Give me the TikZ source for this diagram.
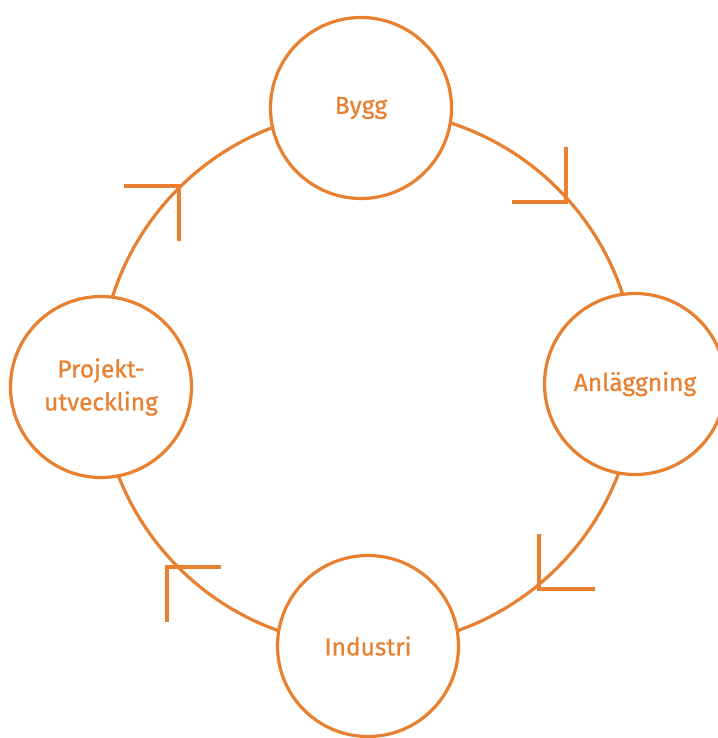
\documentclass[tikz,border=0pt]{standalone}
\usepackage{fontspec}
\setmainfont{Fira Sans}
\newfontfamily\hubfont{Fira Sans}[FakeBold=0.7]
\definecolor{ring}{RGB}{232,128,48}
\begin{document}
\begin{tikzpicture}[x=1pt,y=-1pt,
  hub/.style={circle,draw=ring,line width=3.2pt,fill=white,minimum size=181pt,inner sep=0pt,
    text=ring,font=\hubfont\fontsize{24.5}{33}\selectfont,align=center},
  ringline/.style={draw=ring,line width=3.2pt},
  arm/.style={draw=ring,line width=3.2pt}]
\useasboundingbox (0,0) rectangle (717,738);
\fill[white] (0,0) rectangle (717,738);
\coordinate (c) at (368,378);
\draw[ringline] (c) circle (268);
\node[hub] (bygg) at (361,108) {Bygg};
\node[hub] (anl) at (635,384) {Anläggning};
\node[hub] (ind) at (368,646) {Industri};
\node[hub] (proj) at (101,387) {Projekt-\\utveckling};
% arrow markers
\coordinate (a1) at (566,202);
\coordinate (a1v) at (566,147);
\coordinate (a1h) at (512,202);
\draw[arm] (a1v) -- (a1) -- (a1h);
\coordinate (a2) at (179,186);
\coordinate (a2h) at (124,186);
\coordinate (a2v) at (179,241);
\draw[arm] (a2h) -- (a2) -- (a2v);
\coordinate (a3) at (539,589);
\coordinate (a3v) at (539,534);
\coordinate (a3h) at (595,589);
\draw[arm] (a3v) -- (a3) -- (a3h);
\coordinate (a4) at (167,567);
\coordinate (a4h) at (221,567);
\coordinate (a4v) at (167,622);
\draw[arm] (a4h) -- (a4) -- (a4v);
\end{tikzpicture}
\end{document}
